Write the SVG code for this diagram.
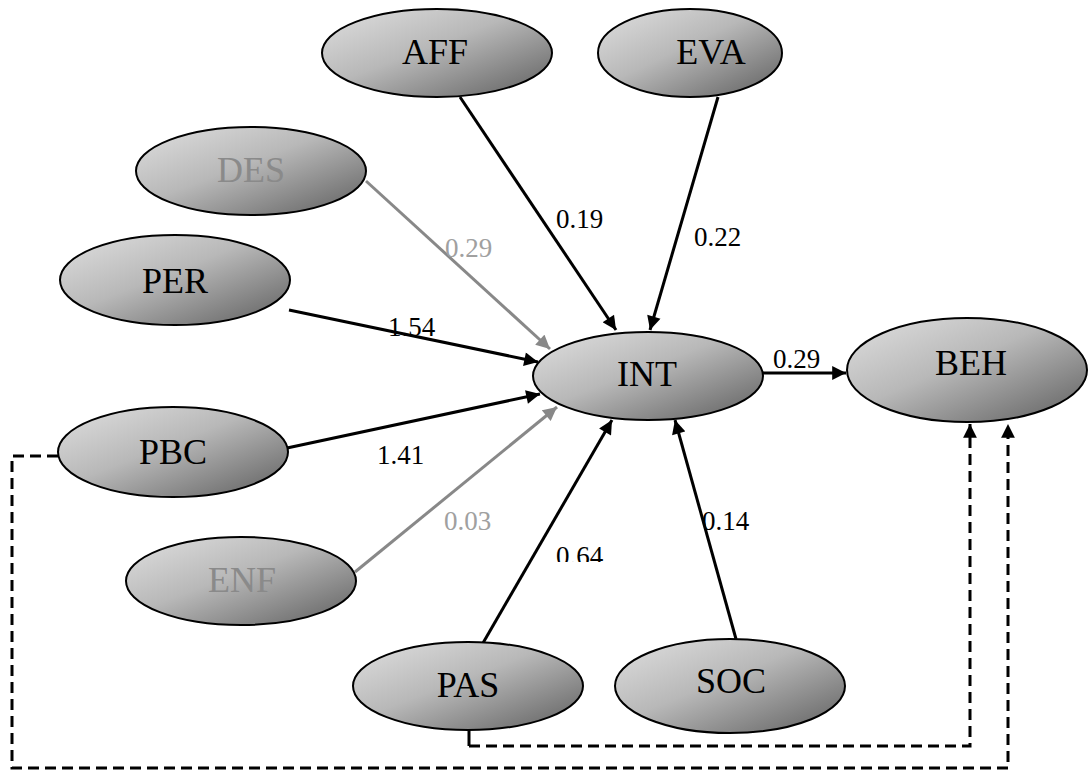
<svg xmlns="http://www.w3.org/2000/svg" width="1089" height="773" viewBox="0 0 1089 773">
<defs>
<linearGradient id="g" x1="0" y1="0" x2="1" y2="1">
<stop offset="0" stop-color="#e0e0e0"/>
<stop offset="0.45" stop-color="#b8b8b8"/>
<stop offset="1" stop-color="#5e5e5e"/>
</linearGradient>
<marker id="ab" viewBox="0 0 10 10" refX="10" refY="5" markerWidth="5" markerHeight="4.6" orient="auto" markerUnits="strokeWidth">
<path d="M0,0 L10,5 L0,10 Z" fill="#000"/>
</marker>
<marker id="ag" viewBox="0 0 10 10" refX="10" refY="5" markerWidth="5" markerHeight="4.6" orient="auto" markerUnits="strokeWidth">
<path d="M0,0 L10,5 L0,10 Z" fill="#888"/>
</marker>
<clipPath id="cut"><rect x="540" y="530" width="90" height="32"/></clipPath>
</defs>
<style>
ellipse{fill:url(#g);stroke:#000;stroke-width:2}
.t{font-size:36px;text-anchor:middle;fill:#000}
.tg{fill:#8a8a8a}
.l{font-size:27px;fill:#000}
.lg{fill:#a0a0a0}
.c{fill:none;stroke:#000;stroke-width:3}
.cg{fill:none;stroke:#888;stroke-width:3}
.d{fill:none;stroke:#000;stroke-width:3;stroke-dasharray:11 6}
</style>
<rect width="1089" height="773" fill="#fff"/>
<g id="connectors" font-family="'Liberation Serif', 'Times New Roman', serif">
<line class="c" x1="460" y1="97" x2="616" y2="330" marker-end="url(#ab)"/>
<line class="c" x1="718" y1="97" x2="650" y2="330" marker-end="url(#ab)"/>
<line class="cg" x1="366" y1="181" x2="550" y2="349" marker-end="url(#ag)"/>
<line class="c" x1="289" y1="310" x2="538" y2="362" marker-end="url(#ab)"/>
<line class="c" x1="287" y1="448" x2="540" y2="394" marker-end="url(#ab)"/>
<line class="cg" x1="355" y1="572" x2="557" y2="407" marker-end="url(#ag)"/>
<line class="c" x1="483" y1="643" x2="612" y2="420" marker-end="url(#ab)"/>
<line class="c" x1="736" y1="639" x2="675" y2="420" marker-end="url(#ab)"/>
<line class="c" x1="763" y1="373" x2="846" y2="373" marker-end="url(#ab)"/>
<polyline class="d" points="58,456 12,456 12,768 1008,768 1008,424" marker-end="url(#ab)"/>
<line class="c" x1="469" y1="730" x2="469" y2="746"/>
<polyline class="d" points="469,746 970,746 970,424" marker-end="url(#ab)"/>
<text class="l" x="556" y="228">0.19</text>
<text class="l" x="694" y="246">0.22</text>
<text class="l lg" x="445" y="257">0.29</text>
<text class="l" x="388" y="336">1.54</text>
<text class="l" x="377" y="464">1.41</text>
<text class="l lg" x="444" y="530">0.03</text>
<text class="l" x="556" y="565" clip-path="url(#cut)">0.64</text>
<text class="l" x="702" y="530">0.14</text>
<text class="l" x="773" y="368">0.29</text>
</g>
<g font-family="'Liberation Serif', 'Times New Roman', serif">
<g id="AFF"><ellipse cx="437" cy="53" rx="115" ry="44"/><text class="t" x="435" y="64">AFF</text></g>
<g id="EVA"><ellipse cx="690" cy="53" rx="92" ry="44"/><text class="t" x="711" y="64">EVA</text></g>
<g id="DES"><ellipse cx="251" cy="171" rx="115" ry="44"/><text class="t tg" x="251" y="182">DES</text></g>
<g id="PER"><ellipse cx="175" cy="280" rx="115" ry="45"/><text class="t" x="175" y="293">PER</text></g>
<g id="PBC"><ellipse cx="173" cy="452" rx="115" ry="45"/><text class="t" x="173" y="464">PBC</text></g>
<g id="ENF"><ellipse cx="241" cy="581" rx="115" ry="44"/><text class="t tg" x="242" y="592">ENF</text></g>
<g id="INT"><ellipse cx="648" cy="376" rx="115" ry="44"/><text class="t" x="647" y="386">INT</text></g>
<g id="BEH"><ellipse cx="967" cy="370" rx="120" ry="52"/><text class="t" x="971" y="375">BEH</text></g>
<g id="PAS"><ellipse cx="468" cy="686" rx="115" ry="44"/><text class="t" x="468" y="697">PAS</text></g>
<g id="SOC"><ellipse cx="730" cy="686" rx="115" ry="47"/><text class="t" x="731" y="693">SOC</text></g>
</g>
</svg>
